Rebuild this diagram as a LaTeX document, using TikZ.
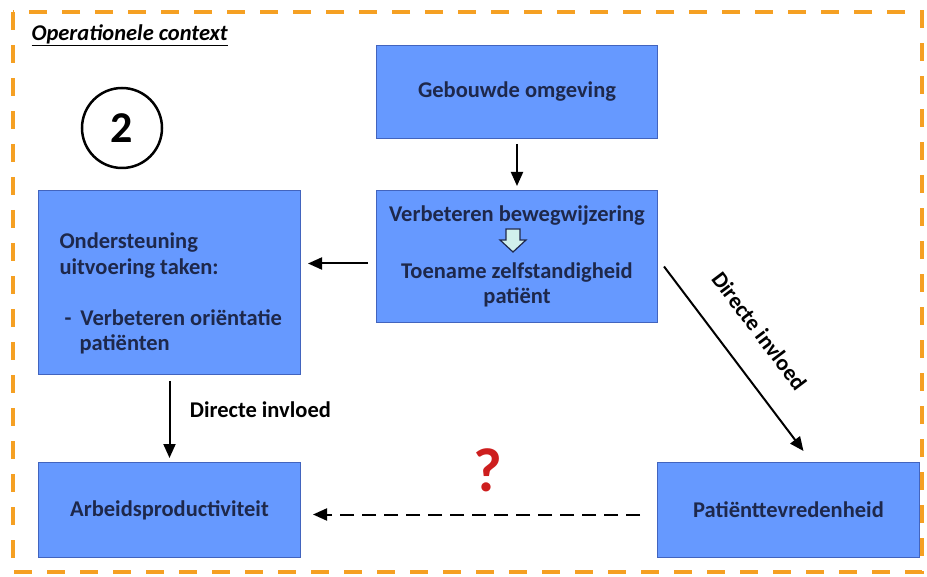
\documentclass[tikz,border=0pt]{standalone}
\usepackage{fontspec}
\setmainfont{Carlito}
\usetikzlibrary{arrows.meta}

\definecolor{boxblue}{RGB}{102,153,255}
\definecolor{boxedge}{RGB}{66,100,190}
\definecolor{boxink}{RGB}{30,40,75}
\definecolor{frameorange}{RGB}{245,160,35}
\definecolor{hintfill}{RGB}{208,240,236}
\definecolor{qred}{RGB}{205,30,30}

\begin{document}
\begin{tikzpicture}[x=1pt,y=-1pt,>={Triangle[length=14pt,width=12pt]},
  box/.style={draw=boxedge, fill=boxblue, line width=1pt, text=boxink, font=\bfseries\fontsize{22.5}{25.5}\selectfont, align=center, inner sep=0pt, anchor=north west},
  link/.style={->, line width=2pt},
  maybe/.style={->, line width=2pt, dash pattern=on 14pt off 8pt},
  note/.style={font=\bfseries\fontsize{22.5}{25}\selectfont},
  hint/.style={draw=boxink, fill=hintfill, line width=1.2pt, line join=miter}]
\useasboundingbox (0,0) rectangle (927,577);

% context frame
\draw[frameorange, line width=4pt, dash pattern=on 18pt off 15pt] (13,12) rectangle (922,572);
\node[anchor=west, font=\bfseries\itshape\fontsize{22.5}{24}\selectfont] (title) at (28,35) {\underline{Operationele context}};
\node[circle, draw, line width=2.5pt, minimum size=80pt, inner sep=0pt, font=\bfseries\fontsize{44}{44}\selectfont] (nr) at (122,128) {2};

% blocks
\node[box, minimum width=281pt, minimum height=93pt] (geb) at (376,45) {Gebouwde omgeving};
\node[box, minimum width=281pt, minimum height=132pt] (verb) at (376,190) {Verbeteren bewegwijzering\\[31pt]Toename zelfstandigheid\\patiënt};
\node[box, minimum width=262pt, minimum height=184pt] (onder) at (38,190) {};
\node[anchor=west, align=left, text=boxink, font=\bfseries\fontsize{22.5}{25.5}\selectfont] (ondertxt) at (56,293.5) {Ondersteuning\\uitvoering taken:\\[25.5pt]\hspace*{5pt}-\hspace*{9pt}Verbeteren oriëntatie\\\hspace*{20pt}patiënten};
\node[box, minimum width=262pt, minimum height=95pt] (arbeid) at (38,462) {Arbeidsproductiviteit};
\node[box, minimum width=262pt, minimum height=95pt] (patient) at (657,462) {Patiënttevredenheid};

% small hollow arrow between the two lines
\coordinate (tip) at (513,229);
\draw[hint] (tip) ++(-7,0) -- ++(14,0) -- ++(0,11) -- ++(6,0) -- ++(-13,12) -- ++(-13,-12) -- ++(6,0) -- cycle;

% connectors
\draw[link, shorten <=5pt, shorten >=4pt] (geb.south) -- (verb.north);
\draw[link, shorten <=8pt, shorten >=7pt] ([yshift=-7pt]verb.west) -- ([yshift=-7pt]verb.west -| onder.east);
\draw[link, shorten <=6pt, shorten >=4pt] (onder.south) -- (arbeid.north) node[pos=0.4, right=16pt, note] {Directe invloed};
\draw[link] ([xshift=6pt,yshift=-10pt]verb.east) -- ([xshift=15pt,yshift=11pt]patient.north) node[pos=0.47, sloped, above=25pt, note] {Directe invloed};
\draw[maybe, shorten <=17pt, shorten >=12pt] ([yshift=-4.5pt]patient.west) -- ([yshift=-4.5pt]arbeid.east);
\node[text=qred, font=\bfseries\fontsize{62}{62}\selectfont] (ask) at (488,470) {?};
\end{tikzpicture}
\end{document}
